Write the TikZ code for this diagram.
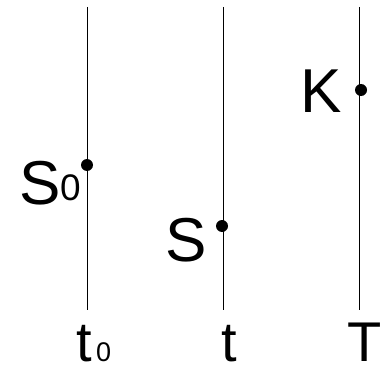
\documentclass[tikz,border=0pt]{standalone}
\usepackage{fontspec}
\setmainfont{Liberation Sans}
\begin{document}
\begin{tikzpicture}[x=1pt,y=-1pt,
  axis/.style={line width=1pt,black},
  dotmark/.style={circle,fill=black,inner sep=0pt,minimum size=12pt},
  biglab/.style={anchor=base west,inner sep=0pt,text depth=0pt,font=\fontsize{62}{62}\selectfont},
  botlab/.style={anchor=base west,inner sep=0pt,text depth=0pt,font=\fontsize{56}{56}\selectfont},
  sublab/.style={anchor=base west,inner sep=0pt,text depth=0pt,font=\fontsize{37}{37}\selectfont},
  botsub/.style={anchor=base west,inner sep=0pt,text depth=0pt,font=\fontsize{27}{27}\selectfont}]
\useasboundingbox (0,0) rectangle (383,369);
\coordinate (a1) at (87,7);  \coordinate (a2) at (87,310);
\coordinate (b1) at (223,7); \coordinate (b2) at (223,310);
\coordinate (c1) at (359,7); \coordinate (c2) at (359,310);
\draw[axis] (a1) -- (a2);
\draw[axis] (b1) -- (b2);
\draw[axis] (c1) -- (c2);
\node[dotmark] (d0) at (87,165) {};
\node[dotmark] (d1) at (222,226) {};
\node[dotmark] (d2) at (361,90) {};
\node[biglab] (lS0) at (19,204) {S};
\node[sublab] (lS0s) at (60,200) {0};
\node[biglab] (lS) at (165,261) {S};
\node[biglab] (lK) at (300,112) {K};
\node[botlab] (lt0) at (76,361) {t};
\node[botsub] (lt0s) at (96,361) {0};
\node[botlab] (lt) at (221,361) {t};
\node[botlab] (lT) at (347,361) {T};
\end{tikzpicture}
\end{document}
